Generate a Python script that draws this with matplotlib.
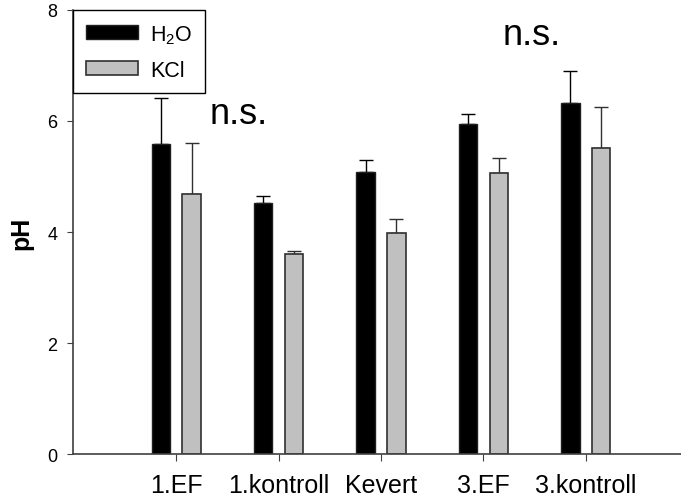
import numpy as np
import matplotlib
matplotlib.use("Agg")
import matplotlib.pyplot as plt

plt.rcParams['font.family'] = ['Liberation Sans', 'DejaVu Sans']
plt.rcParams['mathtext.fontset'] = 'custom'
plt.rcParams['mathtext.rm'] = 'Liberation Sans'
plt.rcParams['mathtext.it'] = 'Liberation Sans:italic'

# pH means and standard deviations per site
sites = ["1.EF", "1.kontroll", "Kevert", "3.EF", "3.kontroll"]
h2o = [5.58, 4.52, 5.09, 5.95, 6.33]
h2o_err = [0.83, 0.12, 0.21, 0.18, 0.57]
kcl = [4.68, 3.60, 3.98, 5.07, 5.51]
kcl_err = [0.93, 0.05, 0.25, 0.26, 0.74]

# significance notes (x, y, text)
notes = [(1.61, 5.96, "n.s."), (4.47, 7.39, "n.s.")]

fig = plt.figure(figsize=(6.81, 5.02), dpi=100)
ax = fig.add_axes([0.1068, 0.0936, 0.8932, 0.8845])

x = np.arange(1, len(sites) + 1)
w = 0.18
off = 0.15
spine_col = "#404040"

ax.bar(x - off, h2o, w, color="black", edgecolor="#202020", linewidth=1, label="H$_2$O", zorder=2)
ax.bar(x + off, kcl, w, color="#c0c0c0", edgecolor="#303030", linewidth=1.2, label="KCl", zorder=2)
ax.errorbar(x - off, h2o, yerr=[np.zeros(len(h2o)), h2o_err], fmt="none",
            ecolor="black", elinewidth=1, capsize=4.7, capthick=1, zorder=1)
ax.errorbar(x + off, kcl, yerr=[np.zeros(len(kcl)), kcl_err], fmt="none",
            ecolor="#303030", elinewidth=1, capsize=4.7, capthick=1, zorder=1)

for nx, ny, txt in notes:
    ax.text(nx, ny, txt, fontsize=26, ha="center", va="baseline")

ax.set_xlim(-0.01, 5.93)
ax.set_ylim(0, 8)
ax.set_yticks([0, 2, 4, 6, 8])
ax.set_xticks(x)
ax.set_xticklabels(sites, fontsize=18)
ax.tick_params(axis="x", length=5, pad=9, color=spine_col)
ax.tick_params(axis="y", length=4, pad=7, labelsize=13, color=spine_col)
ax.set_ylabel("pH", fontsize=18, fontweight="bold", labelpad=10)

for s in ["top", "right"]:
    ax.spines[s].set_visible(False)
for s in ["left", "bottom"]:
    ax.spines[s].set_color(spine_col)
    ax.spines[s].set_linewidth(1.2)

leg = ax.legend(loc="upper left", bbox_to_anchor=(0.0, 1.0), borderaxespad=0,
                fontsize=15.5, fancybox=False, framealpha=1, edgecolor="black",
                handlelength=2.45, handleheight=0.6, handletextpad=0.55,
                borderpad=0.6, labelspacing=0.65)
leg.get_frame().set_linewidth(1)

fig.savefig("out.png", dpi=100)
